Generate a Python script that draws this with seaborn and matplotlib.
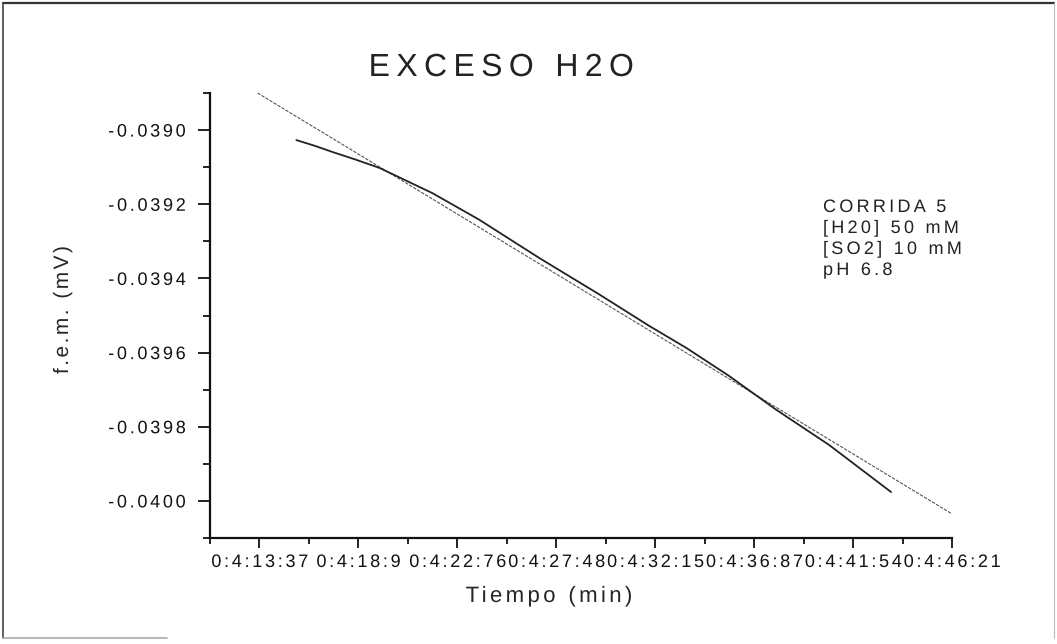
import numpy as np
import pandas as pd
import matplotlib
matplotlib.use("Agg")
import matplotlib.pyplot as plt
import seaborn as sns
from matplotlib import patheffects as pe
from matplotlib.path import Path
from matplotlib.textpath import text_to_path
from matplotlib.lines import Line2D

# ---- data -------------------------------------------------------------
# measured e.m.f. trace (time in seconds, f.e.m. in mV)
tiempo_s = [255.12, 255.97, 256.83, 257.90, 259.06, 261.57, 263.80, 266.64,
            269.48, 271.85, 273.60, 275.64, 277.87, 280.38, 283.32]
fem_mv = [-0.039027, -0.039042, -0.039059, -0.039079, -0.039102, -0.039170,
          -0.039242, -0.039345, -0.039443, -0.039528, -0.039587, -0.039663,
          -0.039754, -0.039849, -0.039976]

# linear fit, evaluated at both ends of the plotted range
ajuste_t = [253.28, 286.21]
ajuste_fem = [-0.038900, -0.040035]

# time axis ticks
x_tick_pos = [253.37, 258.06, 262.76, 267.45, 272.14, 276.83, 281.52, 286.21]
x_tick_labels = ["0:4:13:37", "0:4:18:9", "0:4:22:76", "0:4:27:48",
                 "0:4:32:15", "0:4:36:87", "0:4:41:54", "0:4:46:21"]

# e.m.f. axis ticks
y_tick_pos = [-0.0390, -0.0392, -0.0394, -0.0396, -0.0398, -0.0400]
y_tick_labels = ["-0.0390", "-0.0392", "-0.0394", "-0.0396", "-0.0398", "-0.0400"]
y_limits = (-0.0401, -0.0389)

titulo = "EXCESO H2O"
condiciones = ["CORRIDA 5", "[H20] 50 mM", "[SO2] 10 mM", "pH 6.8"]


# ---- letter-spaced text -----------------------------------------------
class Tracking(pe.AbstractPathEffect):
    """Draws text as a path with extra space between characters."""

    def __init__(self, text, prop, em, ha):
        super().__init__()
        units = text_to_path.FONT_SCALE * em
        counts = [len(text_to_path.get_text_path(prop, ch)[0]) for ch in text]
        self._shift = np.repeat(np.arange(len(text)) * units, counts)
        extra = units * (len(text) - 1)
        self._base = {"left": 0.0, "center": -extra / 2, "right": -extra}[ha]

    def draw_path(self, renderer, gc, tpath, affine, rgbFace=None):
        verts = tpath.vertices
        if len(verts) == len(self._shift):
            verts = verts.copy()
            verts[:, 0] += self._shift + self._base
            tpath = Path(verts, tpath.codes)
        renderer.draw_path(gc, tpath, affine, rgbFace)


def track(txt, em, ha=None):
    ha = ha or txt.get_horizontalalignment()
    txt.set_path_effects([Tracking(txt.get_text(), txt.get_fontproperties(), em, ha)])
    return txt


# ---- figure -------------------------------------------------------------
sns.set_theme(style="ticks")
plt.rcParams["font.family"] = ["Liberation Sans", "DejaVu Sans"]
plt.rcParams["text.color"] = "#1a1a1a"

W, H = 1057, 644
fig = plt.figure(figsize=(W / 100, H / 100), dpi=100, facecolor="white")
ax = fig.add_axes([210 / W, (H - 538) / H, (952 - 210) / W, (538 - 93) / H])
ax.set_facecolor("white")

datos = pd.DataFrame({"t": tiempo_s, "fem": fem_mv})
ajuste = pd.DataFrame({"t": ajuste_t, "fem": ajuste_fem})

sns.lineplot(data=ajuste, x="t", y="fem", ax=ax, color="#555555",
             linewidth=0.8, sort=False, estimator=None)
ax.lines[-1].set_dashes((3, 1.2))
sns.lineplot(data=datos, x="t", y="fem", ax=ax, color="#222222",
             linewidth=1.3, sort=False, estimator=None)

step = (x_tick_pos[-1] - x_tick_pos[0]) / (len(x_tick_pos) - 1)
ax.set_xlim(x_tick_pos[0] - step / 2, x_tick_pos[-1])
ax.set_ylim(*y_limits)

x_minor = [x_tick_pos[0] - step / 2] + [(a + b) / 2 for a, b in zip(x_tick_pos[:-1], x_tick_pos[1:])]
y_minor = [(a + b) / 2 for a, b in zip(y_tick_pos[:-1], y_tick_pos[1:])] + list(y_limits)
ax.set_xticks(x_tick_pos, x_tick_labels)
ax.set_xticks(x_minor, minor=True)
ax.set_yticks(y_tick_pos, y_tick_labels)
ax.set_yticks(y_minor, minor=True)

for side in ("top", "right"):
    ax.spines[side].set_visible(False)
for side in ("left", "bottom"):
    ax.spines[side].set_linewidth(1.6)
    ax.spines[side].set_color("#111111")

ax.tick_params(axis="y", which="major", length=9, width=1.3, pad=8.5,
               labelsize=13, colors="#111111")
ax.tick_params(axis="y", which="minor", length=5, width=1.3, colors="#111111")
ax.tick_params(axis="x", which="major", length=7.5, width=1.3, pad=4,
               labelsize=13, colors="#111111")
ax.tick_params(axis="x", which="minor", length=4, width=1.3, colors="#111111")

for lbl in ax.get_xticklabels():
    track(lbl, 0.15, "center")
for lbl in ax.get_yticklabels():
    track(lbl, 0.15, "right")

ax.set_xlabel("Tiempo (min)", fontsize=16)
ax.xaxis.set_label_coords((549 - 210) / 742, (538 - 586) / 445)
track(ax.xaxis.label, 0.15, "center")

ax.set_ylabel("f.e.m. (mV)", fontsize=15)
ax.yaxis.set_label_coords((72 - 210) / 742, (538 - 310) / 445)
track(ax.yaxis.label, 0.12, "center")

t = fig.text(501.5 / W, 1 - 76 / H, titulo, fontsize=23, ha="center",
             va="baseline", color="#222222")
track(t, 0.2, "center")

for i, linea in enumerate(condiciones):
    tx = fig.text(823 / W, 1 - (212 + 21 * i) / H, linea, fontsize=13,
                  ha="left", va="baseline", color="#222222")
    track(tx, 0.18, "left")

# outer frame
fr = dict(transform=fig.transFigure)
fig.add_artist(Line2D([3 / W, 1054 / W], [1 - 3 / H] * 2, color="#333333", lw=1.6, **fr))
fig.add_artist(Line2D([3 / W, 3 / W], [1 - 3 / H, 1 - 638 / H], color="#444444", lw=1.2, **fr))
fig.add_artist(Line2D([1054 / W, 1054 / W], [1 - 3 / H, 1 - 638 / H], color="#bbbbbb", lw=0.8, **fr))
fig.add_artist(Line2D([3 / W, 167 / W], [1 - 638 / H] * 2, color="#aaaaaa", lw=1.2, **fr))

fig.savefig("out.png", dpi=100, facecolor="white")
